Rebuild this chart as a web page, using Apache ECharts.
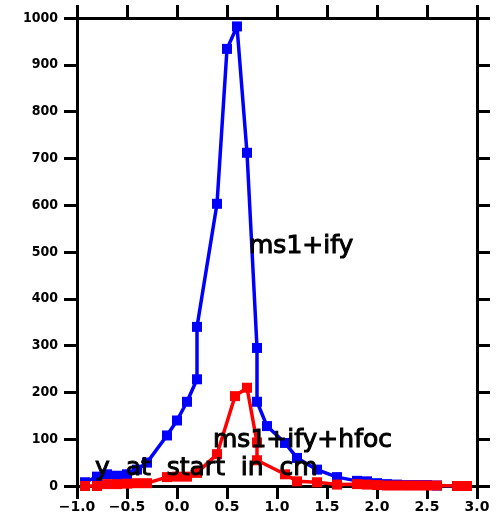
<!DOCTYPE html>
<html>
<head>
<meta charset="utf-8">
<script src="https://cdn.jsdelivr.net/npm/echarts@6/dist/echarts.min.js"></script>
<style>
  html, body { margin: 0; padding: 0; background: #fff; }
  #chart { width: 499px; height: 520px; }
</style>
</head>
<body>
<div id="chart"></div>
<script>
// y at start (cm) and counts for the two configurations
const blueX = [-0.92, -0.8, -0.7, -0.6, -0.5, -0.4, -0.3, -0.1, 0.0, 0.1, 0.2, 0.2, 0.4, 0.5, 0.6, 0.7, 0.8, 0.8, 0.9, 1.08, 1.2, 1.4, 1.6, 1.8, 1.9, 2.0, 2.1, 2.2, 2.3, 2.4, 2.5, 2.6, 2.8, 2.9];
const blueY = [8, 20, 25, 22, 25, 35, 50, 108, 140, 180, 228, 340, 603, 934, 982, 712, 295, 180, 128, 92, 60, 35, 19, 11, 10, 6, 4, 3, 2, 2, 2, 1, 0, 0];

const redX = [-0.92, -0.8, -0.7, -0.6, -0.5, -0.4, -0.3, -0.1, 0.0, 0.1, 0.2, 0.4, 0.58, 0.7, 0.8, 0.8, 1.08, 1.2, 1.4, 1.6, 1.8, 1.9, 2.0, 2.1, 2.2, 2.3, 2.4, 2.5, 2.6, 2.8, 2.9];
const redY = [0, 0, 4, 4, 5, 6, 6, 19, 20, 20, 28, 68, 192, 210, 93, 55, 25, 10, 8, 3, 4, 3, 2, 1, 1, 1, 1, 1, 1, 0, 0];

const xTicks = { min: -1.0, max: 3.0, step: 0.5 };
const yTicks = { min: 0, max: 1000, step: 100 };

// text annotations anchored in data space: [text, x, y]
const notes = [
  ['ms1+ify', 0.72, 512],
  ['ms1+ify+hfoc', 0.36, 98],
  ['y  at  start  in  cm', -0.82, 38]
];

const pairs = (xs, ys) => xs.map((x, i) => [x, ys[i]]);

const chart = echarts.init(document.getElementById('chart'), null, { renderer: 'canvas' });

const axisLine = { show: true, onZero: false, lineStyle: { color: '#000', width: 3 } };
const axisTick = { show: true, inside: false, length: 13, lineStyle: { color: '#000', width: 3 } };

const fmtX = v => (v < 0 ? '\u2212' : '') + Math.abs(v).toFixed(1);
const fmtY = v => String(v);

chart.setOption({
  animation: false,
  backgroundColor: '#fff',
  grid: { left: 77, right: 22, top: 18, bottom: 34 },
  xAxis: [
    {
      type: 'value', position: 'bottom', min: xTicks.min, max: xTicks.max, interval: xTicks.step,
      axisLine, axisTick, splitLine: { show: false },
      axisLabel: {
        margin: 14, formatter: fmtX, color: '#000',
        fontFamily: 'DejaVu Sans', fontWeight: 'bold', fontSize: 14
      }
    },
    {
      type: 'value', position: 'top', min: xTicks.min, max: xTicks.max, interval: xTicks.step,
      axisLine, axisTick, splitLine: { show: false }, axisLabel: { show: false }
    }
  ],
  yAxis: [
    {
      type: 'value', position: 'left', min: yTicks.min, max: yTicks.max, interval: yTicks.step,
      axisLine, axisTick, splitLine: { show: false },
      axisLabel: {
        margin: 19, formatter: fmtY, color: '#000',
        fontFamily: '"Liberation Sans Narrow", "DejaVu Sans Condensed", "Liberation Sans"',
        fontWeight: 'bold', fontSize: 14
      }
    },
    {
      type: 'value', position: 'right', min: yTicks.min, max: yTicks.max, interval: yTicks.step,
      axisLine, axisTick, splitLine: { show: false }, axisLabel: { show: false }
    }
  ],
  series: [
    {
      name: 'ms1+ify', type: 'line', data: pairs(blueX, blueY),
      symbol: 'rect', symbolSize: 10, showAllSymbol: true,
      lineStyle: { color: '#0000ff', width: 3.5 }, itemStyle: { color: '#0000ff' }
    },
    {
      name: 'ms1+ify+hfoc', type: 'line', data: pairs(redX, redY),
      symbol: 'rect', symbolSize: 10, showAllSymbol: true,
      lineStyle: { color: '#ff0000', width: 3.5 }, itemStyle: { color: '#ff0000' }
    }
  ]
});

// place annotation texts through the axes' own scales
chart.setOption({
  graphic: notes.map(([text, x, y]) => {
    const p = chart.convertToPixel({ xAxisIndex: 0, yAxisIndex: 0 }, [x, y]);
    return {
      type: 'text', x: p[0], y: p[1], z: 100,
      style: { text, fill: '#000', font: '25px "DejaVu Sans"', verticalAlign: 'middle', stroke: '#000', lineWidth: 1 }
    };
  })
});
</script>
</body>
</html>
